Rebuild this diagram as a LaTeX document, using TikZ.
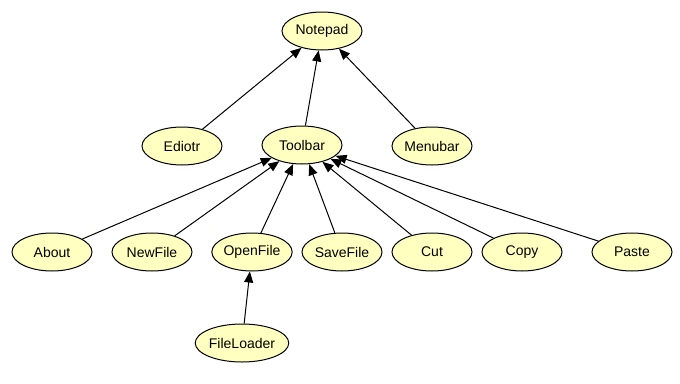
\documentclass[tikz,border=0pt]{standalone}
\usepackage{fontspec}
\setmainfont{Liberation Sans}
\usetikzlibrary{shapes.geometric,arrows.meta}

\definecolor{nodefill}{RGB}{255,255,192}

\tikzset{every picture/.style={line width=1pt}}
\tikzset{
  cls/.style={draw, ellipse, fill=nodefill, minimum width=80pt, minimum height=38pt,
    inner sep=0pt, font=\fontsize{14}{16}\selectfont},
  inherit/.style={-{Triangle[length=11pt,width=9pt]}}
}

\begin{document}
\begin{tikzpicture}[x=1pt,y=1pt,yscale=-1,xscale=1]
        \useasboundingbox (0,0) rectangle (680,383);

        %Top
        \node[cls] (notepad) at (322,31) {Notepad};

        %Second row
        \node[cls] (ediotr) at (182,146) {Ediotr};
        \node[cls] (toolbar) at (302,145) {Toolbar};
        \node[cls] (menubar) at (432,146) {Menubar};

        %Third row
        \node[cls] (about) at (52,252) {About};
        \node[cls] (newfile) at (152,252) {NewFile};
        \node[cls] (openfile) at (252,252) {OpenFile};
        \node[cls] (savefile) at (342,252) {SaveFile};
        \node[cls] (cut) at (432,252) {Cut};
        \node[cls] (copy) at (522,252) {Copy};
        \node[cls] (paste) at (632,252) {Paste};

        %Bottom
        \node[cls] (fileloader) at (242,343) {FileLoader};

        %Edges
        \draw[inherit] (ediotr) -- (notepad);
        \draw[inherit] (toolbar) -- (notepad);
        \draw[inherit] (menubar) -- (notepad);
        \foreach \n in {about,newfile,openfile,savefile,cut,copy,paste}
          \draw[inherit] (\n) -- (toolbar);
        \draw[inherit] (fileloader) -- (openfile);

\end{tikzpicture}
\end{document}
